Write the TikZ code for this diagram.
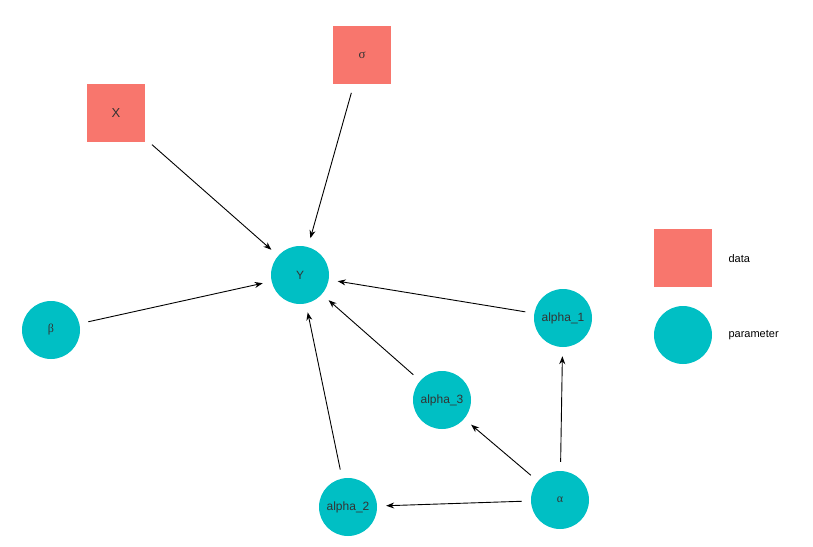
\documentclass[tikz,border=0pt]{standalone}
\usepackage{fontspec}
\setmainfont{Liberation Sans}
\newfontfamily\grk{Liberation Serif}
\usetikzlibrary{arrows.meta}
\definecolor{dat}{HTML}{F8766D}
\definecolor{par}{HTML}{00BFC4}
\definecolor{txt}{HTML}{333333}
\begin{document}
\begin{tikzpicture}[x=1pt,y=-1pt,
 datbox/.style={fill=dat,minimum size=58pt,inner sep=0pt,font=\fontsize{13}{15}\selectfont,text=txt},
 parnode/.style={circle,fill=par,minimum size=58pt,inner sep=0pt,font=\fontsize{12}{14}\selectfont,text=txt},
 edge/.style={-{Stealth[length=8pt,width=6pt]},line width=0.9pt,shorten >=9pt,shorten <=9pt},
 lab/.style={anchor=west,font=\fontsize{11}{13}\selectfont,text=black}]
\fill[white] (0,0) rectangle (813,546);
\node[datbox] (sig) at (362,55) {\grk σ};
\node[datbox] (X) at (116,113) {X};
\node[parnode] (Y) at (300,275) {Y};
\node[parnode] (b) at (51,330) {\grk β};
\node[parnode] (a1) at (563,318) {alpha\_1};
\node[parnode] (a3) at (442,400) {alpha\_3};
\node[parnode] (a2) at (348,507) {alpha\_2};
\node[parnode] (a) at (560,500) {\grk α};
\draw[edge] (X) -- (Y);
\draw[edge] (sig) -- (Y);
\draw[edge] (b) -- (Y);
\draw[edge] (a1) -- (Y);
\draw[edge] (a3) -- (Y);
\draw[edge] (a2) -- (Y);
\draw[edge] (a) -- (a1);
\draw[edge] (a) -- (a3);
\draw[edge] (a) -- (a2);
\node[datbox] (ld) at (683,258) {};
\node[parnode] (lp) at (683,335) {};
\node[lab] (ldt) at (725,259) {data};
\node[lab] (lpt) at (725,335) {parameter};
\end{tikzpicture}
\end{document}
